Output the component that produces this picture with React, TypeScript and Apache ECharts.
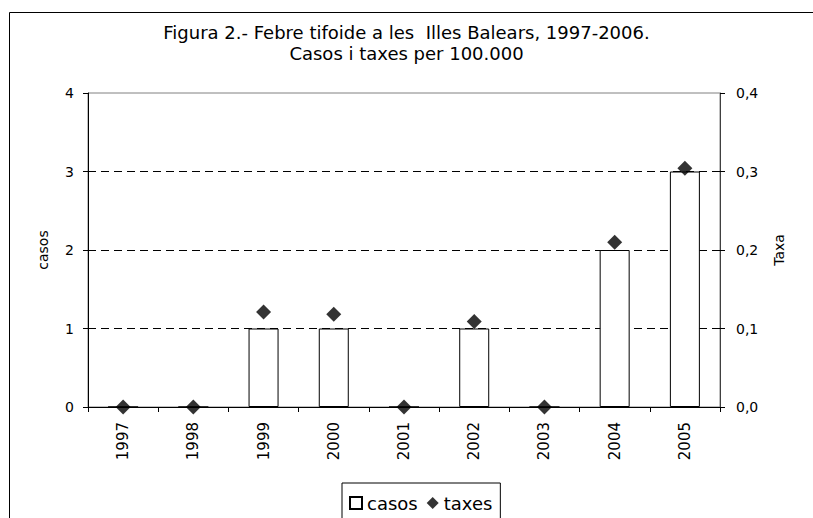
import React, { useEffect, useRef } from "react";
import * as echarts from "echarts";

const years = ["1997", "1998", "1999", "2000", "2001", "2002", "2003", "2004", "2005"];
const casos = [0, 0, 1, 1, 0, 1, 0, 2, 3];
const taxes = [0, 0, 0.121, 0.118, 0, 0.109, 0, 0.21, 0.304];
const leftTicks = { min: 0, max: 4, interval: 1 };
const rightTicks = { min: 0, max: 0.4, interval: 0.1 };
const titleLines = [
  "Figura 2.- Febre tifoide a les  Illes Balears, 1997-2006.",
  "Casos i taxes per 100.000",
];

const FONT = "DejaVu Sans, Verdana, sans-serif";

export default function App() {
  const ref = useRef<HTMLDivElement>(null);
  useEffect(() => {
    if (!ref.current) return;
    const chart = echarts.init(ref.current, undefined, { renderer: "svg" });
    chart.setOption({
      animation: false,
      backgroundColor: "#fff",
      textStyle: { fontFamily: FONT, color: "#000" },
      title: titleLines.map((t, i) => ({
        text: t,
        left: "center",
        top: 23 + i * 21,
        padding: 0,
        textStyle: { fontFamily: FONT, fontSize: 18, fontWeight: "normal", color: "#000" },
      })),
      graphic: [
        {
          type: "rect",
          shape: { x: 9.5, y: 12.5, width: 830, height: 530 },
          style: { fill: "none", stroke: "#000", lineWidth: 1 },
          silent: true,
          z: 100,
        },
      ],
      legend: {
        left: 342,
        top: 483,
        padding: [11, 8, 30, 7],
        borderColor: "#000",
        borderWidth: 1,
        itemWidth: 12,
        itemHeight: 12,
        itemGap: 9,
        textStyle: { fontFamily: FONT, fontSize: 18, color: "#000" },
        data: [
          { name: "casos", icon: "rect" },
          { name: "taxes", icon: "diamond" },
        ],
      },
      grid: {
        left: 88,
        right: 93,
        top: 93,
        bottom: 111,
        show: true,
        borderColor: "#808080",
        borderWidth: 1,
        backgroundColor: "transparent",
      },
      xAxis: {
        type: "category",
        data: years,
        boundaryGap: true,
        axisLine: { lineStyle: { color: "#000", width: 1 } },
        axisTick: { show: true, length: 5, lineStyle: { color: "#000" } },
        axisLabel: { rotate: 90, margin: 15, fontSize: 15, color: "#000", fontFamily: FONT },
        splitLine: { show: false },
      },
      yAxis: [
        {
          type: "value",
          ...leftTicks,
          name: "casos",
          nameLocation: "middle",
          nameRotate: 90,
          nameGap: 38,
          nameTextStyle: { fontSize: 14, color: "#000", fontFamily: FONT },
          axisLine: { show: true, lineStyle: { color: "#000", width: 1 } },
          axisTick: { show: true, length: 5, lineStyle: { color: "#000" } },
          axisLabel: { margin: 14, fontSize: 14, color: "#000", fontFamily: FONT },
          splitLine: {
            show: true,
            lineStyle: {
              color: ["#000", "#000", "#000", "#000", "rgba(0,0,0,0)"],
              type: [8, 5],
              width: 1,
            },
          },
        },
        {
          type: "value",
          ...rightTicks,
          position: "right",
          name: "Taxa",
          nameLocation: "middle",
          nameRotate: 90,
          nameGap: 52,
          nameTextStyle: { fontSize: 14, color: "#000", fontFamily: FONT },
          axisLine: { show: true, lineStyle: { color: "#404040", width: 1 } },
          axisTick: { show: true, length: 5, lineStyle: { color: "#000" } },
          axisLabel: {
            margin: 16,
            fontSize: 14,
            color: "#000",
            fontFamily: FONT,
            formatter: (v: number) => v.toFixed(1).replace(".", ","),
          },
          splitLine: { show: false },
        },
      ],
      series: [
        {
          name: "casos",
          type: "bar",
          data: casos,
          barWidth: 30,
          yAxisIndex: 0,
          itemStyle: { color: "#fff", borderColor: "#000", borderWidth: 1 },
          z: 2,
        },
        {
          name: "taxes",
          type: "scatter",
          data: taxes,
          yAxisIndex: 1,
          symbol: "diamond",
          symbolSize: 15,
          itemStyle: { color: "#000" },
          z: 3,
        },
      ],
    });
    return () => chart.dispose();
  }, []);
  return <div ref={ref} style={{ position: "fixed", left: 0, top: 0, width: 813, height: 518 }} />;
}
